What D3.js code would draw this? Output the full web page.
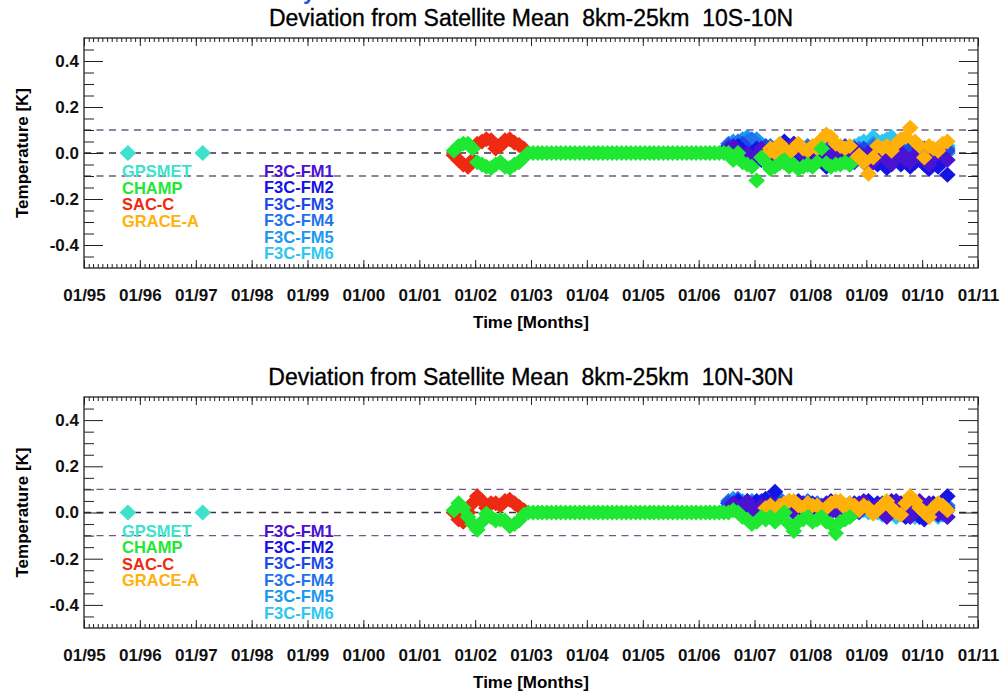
<!DOCTYPE html>
<html>
<head>
<meta charset="utf-8">
<script src="https://cdn.jsdelivr.net/npm/d3@7"></script>
<style>
  body { margin: 0; background: #fff; }
  svg text { font-family: "Liberation Sans", Arial, sans-serif; }
</style>
</head>
<body>
<svg id="chart" width="1004" height="691"></svg>
<script>
// month index counted from 01/1995 (0 = Jan 1995)

const titles = [
  'Deviation from Satellite Mean  8km-25km  10S-10N',
  'Deviation from Satellite Mean  8km-25km  10N-30N'
];
const yearLabels = ['01/95', '01/96', '01/97', '01/98', '01/99', '01/00', '01/01', '01/02',
  '01/03', '01/04', '01/05', '01/06', '01/07', '01/08', '01/09', '01/10', '01/11'];
const yTicks = [-0.4, -0.2, 0.0, 0.2, 0.4];
const yTickLabels = ['-0.4', '-0.2', '0.0', '0.2', '0.4'];
const refLines = [0.1, 0.0, -0.1];

const legendLeft = ['GPSMET', 'CHAMP', 'SAC-C', 'GRACE-A'];
const legendRight = ['F3C-FM1', 'F3C-FM2', 'F3C-FM3', 'F3C-FM4', 'F3C-FM5', 'F3C-FM6'];

// GPSMET: two single months
const gpsmetMonths = [9, 25];
const gpsmetTop = [0.0, 0.0];
const gpsmetBottom = [0.0, 0.0];

// CHAMP from 08/2001 to 09/2008
const champStart = 79;
const champTop = [
  0.01, 0.03, 0.04, 0.04, 0.02, -0.04, -0.05, -0.06, -0.065, -0.05,
  -0.04, -0.06, -0.065, -0.05, -0.04, -0.02,
  0, 0, 0, 0, 0, 0, 0, 0, 0, 0,
  0, 0, 0, 0, 0, 0, 0, 0, 0, 0,
  0, 0, 0, 0, 0, 0, 0, 0, 0, 0,
  0, 0, 0, 0, 0, 0, 0, 0, 0, 0,
  0, 0, 0,
  0.0, -0.03, 0.0, -0.04, -0.05, -0.06, -0.12, -0.02, -0.04, -0.07,
  -0.06, -0.045, -0.03, -0.06, -0.05, -0.07, -0.06, -0.05, -0.06, -0.04,
  0.02, -0.045, -0.06, -0.05, -0.05, -0.04, -0.05
];
const champBottom = [
  0.01, 0.04, 0.02, -0.02, -0.05, -0.075, -0.04, -0.005, -0.02, -0.035,
  -0.03, -0.035, -0.06, -0.05, -0.035, -0.01,
  0, 0, 0, 0, 0, 0, 0, 0, 0, 0,
  0, 0, 0, 0, 0, 0, 0, 0, 0, 0,
  0, 0, 0, 0, 0, 0, 0, 0, 0, 0,
  0, 0, 0, 0, 0, 0, 0, 0, 0, 0,
  0, 0, 0,
  0.0, 0.01, 0.0, -0.02, -0.03, -0.05, -0.04, -0.02, -0.03, -0.02,
  -0.04, -0.02, 0.0, -0.05, -0.08, -0.04, -0.03, -0.02, -0.04, -0.03,
  -0.02, -0.04, -0.05, -0.09, -0.04, -0.03, -0.02
];

// SAC-C from 08/2001 to 11/2002
const sacStart = 79;
const sacTop = [-0.01, -0.03, -0.05, -0.06, -0.03, 0.04, 0.05, 0.06, 0.055, 0.02,
  0.03, 0.055, 0.06, 0.045, 0.035, 0.02];
const sacBottom = [0.0, -0.03, -0.04, 0.0, 0.04, 0.07, 0.05, 0.02, 0.04, 0.04,
  0.03, 0.05, 0.055, 0.04, 0.025, 0.01];

// GRACE-A from 03/2007
const graceStart = 146;
const graceTop = [
  -0.01, 0.02, 0.0, 0.04, 0.02, 0.0, 0.02, 0.04, 0.02, 0.01,
  0.03, 0.02, 0.06, 0.08, 0.07, 0.04, 0.03, 0.02, 0.03, -0.03,
  -0.01, -0.04, -0.09, -0.02, 0.03, 0.02, 0.03, 0.01, 0.04, 0.06,
  0.07, 0.11, 0.05, 0.03, -0.02, 0.03, 0.02, 0.01, 0.04, 0.05
];
const graceBottom = [
  0.02, 0.03, 0.01, 0.03, 0.04, 0.05, 0.05, 0.03, 0.02, 0.04,
  0.03, 0.03, 0.01, 0.02, 0.04, 0.05, 0.05, 0.02, 0.04, 0.03,
  0.01, 0.03, 0.02, -0.005, 0.01, 0.03, 0.05, 0.02, 0.0, -0.01,
  0.04, 0.07, 0.05, 0.02, 0.0, -0.02, 0.02, 0.04, 0.03, 0.01
];

// COSMIC (F3C) from 07/2006 to 06/2010
const cosmicStart = 138;
const fm1Top = [
  0.02, 0.03, 0.01, -0.02, 0.0, -0.03, -0.01, 0.02, -0.02, -0.03,
  0.01, -0.02, -0.04, 0.0, 0.04, 0.02, -0.01, -0.03, 0.0, -0.02,
  0.01, -0.04, -0.02, 0.03, 0.0, -0.03, -0.01, 0.02, -0.02, -0.03,
  0.0, -0.04, -0.02, 0.01, -0.03, -0.05, -0.02, 0.0, -0.03, -0.04,
  -0.01, 0.02, -0.03, -0.05, -0.02, 0.01, -0.01, -0.03
];
const fm2Top = [
  0.0, -0.02, 0.03, 0.01, -0.03, -0.01, 0.02, -0.03, -0.04, 0.0,
  -0.02, 0.03, 0.05, 0.01, -0.02, 0.0, -0.03, -0.05, -0.02, 0.01,
  -0.03, -0.06, -0.04, -0.01, 0.02, -0.02, -0.05, -0.03, 0.0, -0.04,
  -0.06, -0.03, -0.05, -0.02, -0.065, -0.04, -0.01, -0.05, -0.03, -0.06,
  -0.04, -0.03, -0.05, -0.07, -0.04, -0.06, -0.03, -0.095
];
const fm3Top = [
  0.03, 0.01, -0.02, 0.04, 0.02, 0.0, -0.03, 0.01, 0.03, -0.01,
  0.02, 0.0, -0.03, 0.02, 0.04, 0.01, -0.02, 0.0, 0.02, -0.03,
  0.0, 0.03, 0.01, -0.02, 0.01, 0.03, 0.0, -0.04, -0.01, 0.02,
  0.0, -0.02, 0.01, -0.03, 0.0, 0.02, -0.02, 0.01, -0.01, 0.02,
  -0.03, 0.0, 0.02, -0.01, 0.01, -0.02, 0.0, 0.01
];
const fm4Top = [
  0.04, 0.02, 0.05, 0.03, 0.05, 0.06, 0.04, 0.02, 0.0, 0.03,
  0.01, -0.01, 0.02, 0.03, 0.0, -0.02, 0.01, 0.03, 0.0, 0.02,
  -0.01, 0.01, 0.03, 0.0, -0.02, 0.01, 0.02, 0.0, 0.02, -0.01,
  0.01, 0.03, 0.0, 0.02, 0.01, -0.01, 0.02, 0.0, 0.01, -0.02,
  0.01, 0.0, 0.01, -0.02, 0.0, 0.02, 0.0, 0.02
];
const fm5Top = [
  0.03, 0.05, 0.04, 0.06, 0.07, 0.05, 0.06, 0.03, 0.02, 0.0,
  0.02, 0.01, 0.0, 0.02, 0.01, 0.0, 0.02, 0.0, 0.01, 0.0,
  0.02, 0.0, 0.01, 0.02, 0.0, 0.01, 0.0, 0.02, 0.01, 0.0,
  0.02, 0.04, 0.01, 0.0, 0.02, 0.01, 0.0, 0.02, 0.01, 0.0,
  0.01, 0.02, 0.0, 0.01, 0.0, 0.02, 0.01, 0.0
];
const fm6Top = [
  0.02, 0.01, 0.03, 0.02, 0.04, 0.03, 0.01, 0.02, 0.01, 0.0,
  0.01, 0.02, 0.0, 0.01, 0.02, 0.0, 0.01, 0.0, 0.02, 0.01,
  0.0, 0.01, 0.02, 0.0, 0.01, 0.02, 0.0, 0.03, 0.04, 0.05,
  0.04, 0.07, 0.04, 0.05, 0.06, 0.07, 0.04, 0.03, 0.02, 0.01,
  0.02, 0.01, 0.0, 0.02, 0.01, 0.0, 0.02, 0.03
];

const fm1Bottom = [
  0.02, 0.04, 0.01, 0.03, 0.05, 0.02, 0.0, 0.03, -0.01, 0.04,
  0.02, 0.01, 0.04, 0.02, 0.0, 0.03, 0.04, 0.01, 0.03, 0.0,
  0.02, 0.04, 0.01, 0.03, -0.01, 0.02, 0.03, 0.01, 0.04, 0.05,
  0.02, 0.0, 0.03, 0.01, -0.02, 0.03, 0.05, 0.02, 0.0, -0.02,
  0.03, 0.05, 0.02, 0.04, 0.01, -0.01, 0.02, -0.02
];
const fm2Bottom = [
  0.01, 0.03, 0.05, 0.02, 0.0, 0.03, 0.05, 0.02, 0.06, 0.04,
  0.09, 0.03, 0.0, 0.04, 0.02, 0.05, 0.01, 0.03, 0.04, 0.02,
  0.0, 0.03, 0.05, 0.01, 0.03, 0.0, 0.02, 0.04, 0.01, 0.03,
  0.05, 0.02, 0.04, 0.0, 0.03, 0.05, 0.01, 0.04, -0.02, 0.01,
  0.03, -0.02, -0.03, 0.01, 0.04, 0.02, 0.0, 0.07
];
const fm3Bottom = [
  0.04, 0.02, 0.05, 0.03, 0.04, 0.01, 0.03, 0.05, 0.02, 0.04,
  0.06, 0.02, 0.01, 0.03, 0.02, 0.04, 0.0, 0.02, 0.03, 0.01,
  0.03, 0.02, 0.0, 0.02, 0.04, 0.01, 0.03, 0.02, 0.0, 0.02,
  0.03, 0.01, 0.02, 0.04, 0.01, 0.02, 0.03, 0.0, 0.02, 0.04,
  0.01, 0.03, 0.0, 0.02, 0.03, 0.01, 0.03, 0.02
];
const fm4Bottom = [
  0.05, 0.04, 0.06, 0.03, 0.05, 0.04, 0.02, 0.04, 0.05, 0.03,
  0.05, 0.06, 0.03, 0.02, 0.04, 0.02, 0.03, 0.05, 0.02, 0.04,
  0.01, 0.03, 0.02, 0.04, 0.01, 0.03, 0.02, 0.0, 0.03, 0.02,
  0.04, 0.01, 0.03, 0.02, 0.0, 0.02, 0.01, 0.03, 0.01, 0.02,
  0.0, 0.02, 0.01, 0.03, 0.0, 0.02, 0.01, 0.03
];
const fm5Bottom = [
  0.04, 0.06, 0.05, 0.04, 0.03, 0.05, 0.04, 0.03, 0.05, 0.04,
  0.02, 0.04, 0.03, 0.05, 0.02, 0.03, 0.04, 0.02, 0.01, 0.03,
  0.02, 0.01, 0.03, 0.02, 0.01, 0.02, 0.04, 0.02, 0.01, 0.03,
  0.02, 0.0, 0.02, 0.01, 0.03, 0.0, 0.02, 0.01, 0.03, 0.01,
  0.02, 0.0, 0.01, -0.01, 0.02, 0.01, -0.01, 0.01
];
const fm6Bottom = [
  0.03, 0.05, 0.04, 0.05, 0.04, 0.03, 0.02, 0.04, 0.03, 0.02,
  0.03, 0.01, 0.03, 0.02, 0.01, 0.02, 0.0, 0.02, 0.01, 0.03,
  0.01, 0.0, 0.02, 0.01, 0.0, 0.02, 0.01, 0.0, 0.02, 0.01,
  0.0, 0.01, 0.0, -0.01, 0.01, 0.0, -0.02, 0.0, -0.01, 0.01,
  -0.02, 0.0, -0.02, -0.01, 0.0, -0.02, 0.0, -0.02
];

const colors = {
  'GPSMET': '#3ee2cc',
  'CHAMP': '#1fe833',
  'SAC-C': '#ee2a12',
  'GRACE-A': '#ffb10a',
  'F3C-FM1': '#4a12d2',
  'F3C-FM2': '#1414e4',
  'F3C-FM3': '#1c4ae6',
  'F3C-FM4': '#2272ee',
  'F3C-FM5': '#1a98f0',
  'F3C-FM6': '#2cc6f0'
};

// turn a start month + value list into points
function toPoints(name, start, values) {
  return values.map((v, i) => ({ name: name, month: start + i, value: v }));
}

function monthDate(m) {
  return new Date(1995, m, 15);
}

let svg = d3.select('#chart');

let x = d3.scaleTime()
  .domain([new Date(1995, 0, 1), new Date(2011, 0, 1)])
  .range([84, 978]);

// the small blue bit cut off at the top edge
svg.append('text')
  .attr('x', 303)
  .attr('y', -1)
  .style('font-size', '22px')
  .style('font-weight', 'bold')
  .attr('fill', '#2a4ee0')
  .text('y');

function makePanel(top, bottom, title, d) {
  let y = d3.scaleLinear()
    .domain([-0.5, 0.5])
    .range([bottom, top]);

  let g = svg.append('g');

  // title
  g.append('text')
    .attr('x', 531)
    .attr('y', top - 12)
    .style('text-anchor', 'middle')
    .style('font-size', '23px')
    .style('white-space', 'pre')
    .attr('stroke', '#000')
    .attr('stroke-width', 0.35)
    .text(title);

  // dashed reference lines
  g.selectAll('.ref')
    .data(refLines)
    .enter()
    .append('line')
    .attr('x1', 84)
    .attr('x2', 978)
    .attr('y1', (v) => y(v))
    .attr('y2', (v) => y(v))
    .attr('stroke', (v) => v === 0 ? '#3a2f45' : '#6e5a80')
    .attr('stroke-width', 1.3)
    .attr('stroke-dasharray', '7,5.5');

  // diamonds, drawn series by series (F3C-FM6 at the back, CHAMP near the front)
  let points = [].concat(
    toPoints('F3C-FM6', cosmicStart, d.fm6),
    toPoints('F3C-FM5', cosmicStart, d.fm5),
    toPoints('F3C-FM4', cosmicStart, d.fm4),
    toPoints('F3C-FM3', cosmicStart, d.fm3),
    toPoints('F3C-FM2', cosmicStart, d.fm2),
    toPoints('F3C-FM1', cosmicStart, d.fm1),
    toPoints('GRACE-A', graceStart, d.grace),
    toPoints('SAC-C', sacStart, d.sac),
    toPoints('CHAMP', champStart, d.champ),
    gpsmetMonths.map((m, i) => ({ name: 'GPSMET', month: m, value: d.gpsmet[i] }))
  );

  g.selectAll('.pt')
    .data(points)
    .enter()
    .append('path')
    .attr('d', 'M0,-8L8.3,0L0,8L-8.3,0Z')
    .attr('transform', (p) => `translate(${x(monthDate(p.month))},${y(p.value)})`)
    .attr('fill', (p) => colors[p.name]);

  // legend text
  let legendY = y(0) + 24;
  g.selectAll('.legL')
    .data(legendLeft)
    .enter()
    .append('text')
    .attr('x', 122)
    .attr('y', (t, i) => legendY + i * 16.6)
    .style('font-size', '16.5px')
    .style('font-weight', 'bold')
    .attr('fill', (t) => colors[t])
    .text((t) => t);

  g.selectAll('.legR')
    .data(legendRight)
    .enter()
    .append('text')
    .attr('x', 264)
    .attr('y', (t, i) => legendY + i * 16.4)
    .style('font-size', '16.5px')
    .style('font-weight', 'bold')
    .attr('fill', (t) => colors[t])
    .text((t) => t);

  // AXES - ticks point inward on all four sides
  let minorY = d3.range(-0.45, 0.5, 0.05).filter((v) => Math.abs(Math.round(v * 20) % 4) !== 0);

  g.append('g')
    .attr('transform', 'translate(84,0)')
    .call(d3.axisLeft(y).tickValues(yTicks).tickSize(-19).tickSizeOuter(0).tickPadding(5)
      .tickFormat((v, i) => yTickLabels[i]))
    .call((a) => a.select('.domain').remove());
  g.append('g')
    .attr('transform', 'translate(84,0)')
    .call(d3.axisLeft(y).tickValues(minorY).tickSize(-10).tickFormat(''))
    .call((a) => a.select('.domain').remove());
  g.append('g')
    .attr('transform', 'translate(978,0)')
    .call(d3.axisRight(y).tickValues(yTicks).tickSize(-19).tickFormat(''))
    .call((a) => a.select('.domain').remove());
  g.append('g')
    .attr('transform', 'translate(978,0)')
    .call(d3.axisRight(y).tickValues(minorY).tickSize(-10).tickFormat(''))
    .call((a) => a.select('.domain').remove());

  let years = d3.timeYear.range(new Date(1995, 0, 1), new Date(2011, 0, 2));

  g.append('g')
    .attr('transform', `translate(0,${bottom})`)
    .call(d3.axisBottom(x).ticks(d3.timeMonth.every(1)).tickSize(-4).tickFormat(''))
    .call((a) => a.select('.domain').remove());
  g.append('g')
    .attr('transform', `translate(0,${bottom})`)
    .call(d3.axisBottom(x).tickValues(years).tickSize(-8).tickPadding(21)
      .tickFormat((t, i) => yearLabels[i]))
    .call((a) => a.select('.domain').remove());
  g.append('g')
    .attr('transform', `translate(0,${top})`)
    .call(d3.axisTop(x).ticks(d3.timeMonth.every(1)).tickSize(-4).tickFormat(''))
    .call((a) => a.select('.domain').remove());
  g.append('g')
    .attr('transform', `translate(0,${top})`)
    .call(d3.axisTop(x).tickValues(years).tickSize(-8).tickFormat(''))
    .call((a) => a.select('.domain').remove());

  g.selectAll('.tick line').attr('stroke', '#222');
  g.selectAll('.tick text')
    .attr('fill', '#111')
    .style('font-size', '17px')
    .style('font-weight', 'bold')
    .style('font-family', '"Liberation Sans", Arial, sans-serif');

  // frame
  g.append('rect')
    .attr('x', 84)
    .attr('y', top)
    .attr('width', 978 - 84)
    .attr('height', bottom - top)
    .attr('fill', 'none')
    .attr('stroke', '#222')
    .attr('stroke-width', 1.3);

  // axis titles
  g.append('text')
    .attr('transform', `translate(28,${(top + bottom) / 2}) rotate(-90)`)
    .style('text-anchor', 'middle')
    .style('font-size', '17px')
    .style('font-weight', 'bold')
    .text('Temperature [K]');

  g.append('text')
    .attr('x', 531)
    .attr('y', bottom + 60)
    .style('text-anchor', 'middle')
    .style('font-size', '17px')
    .style('font-weight', 'bold')
    .text('Time [Months]');
}

makePanel(38, 268, titles[0], {
  gpsmet: gpsmetTop, champ: champTop, sac: sacTop, grace: graceTop,
  fm1: fm1Top, fm2: fm2Top, fm3: fm3Top, fm4: fm4Top, fm5: fm5Top, fm6: fm6Top
});

makePanel(397, 628, titles[1], {
  gpsmet: gpsmetBottom, champ: champBottom, sac: sacBottom, grace: graceBottom,
  fm1: fm1Bottom, fm2: fm2Bottom, fm3: fm3Bottom, fm4: fm4Bottom, fm5: fm5Bottom, fm6: fm6Bottom
});
</script>
</body>
</html>
